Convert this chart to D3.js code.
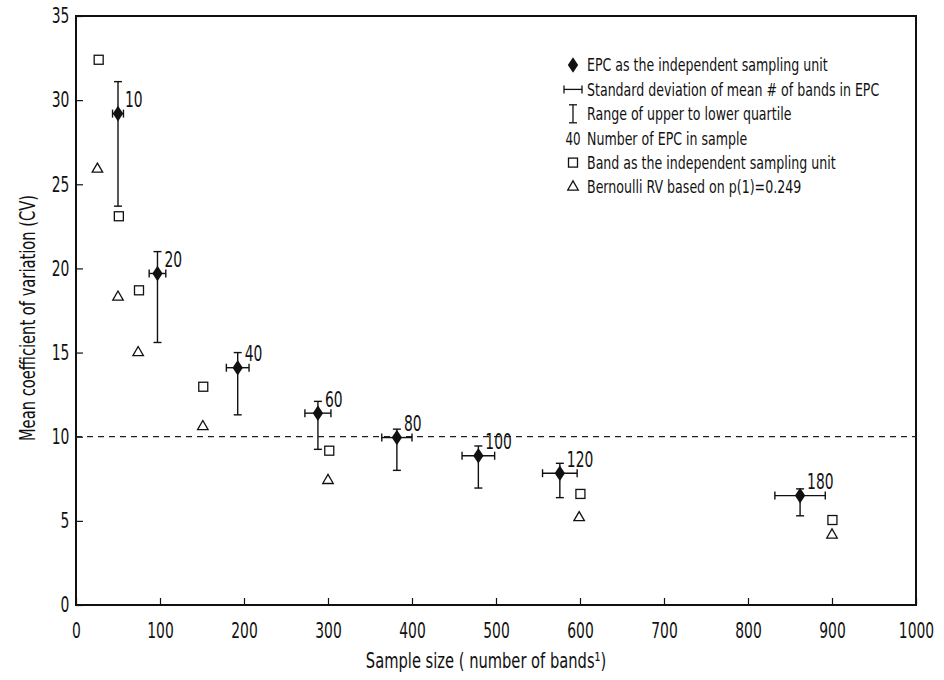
<!DOCTYPE html>
<html><head><meta charset="utf-8">
<script src="https://cdn.jsdelivr.net/npm/d3@7"></script>
<style>
body{margin:0;background:#fff;}
svg{display:block;}
text{font-family:"DejaVu Sans",sans-serif;fill:#111;}
</style></head><body>
<svg id="c" width="944" height="680"></svg>
<script>
// ---- data ----
const epcCount   = [10, 20, 40, 60, 80, 100, 120, 180];
const epcX       = [50, 97, 192.5, 288, 382, 479, 576, 862];
const epcMean    = [29.2, 19.7, 14.1, 11.4, 9.95, 8.87, 7.83, 6.5];
const epcSD      = [6.5, 9.9, 13.5, 15.5, 18, 19.4, 20.6, 30];
const epcQUpper  = [31.1, 21.0, 15.0, 12.1, 10.45, 9.45, 8.42, 6.9];
const epcQLower  = [23.7, 15.6, 11.3, 9.25, 8.0, 6.95, 6.38, 5.3];
const bandX      = [27, 51, 75, 151.5, 301.5, 600.5, 900.5];
const bandCV     = [32.4, 23.1, 18.7, 12.97, 9.17, 6.6, 5.05];
const bernX      = [25.5, 50, 74, 151, 300, 599, 900];
const bernCV     = [25.9, 18.3, 15.0, 10.6, 7.4, 5.19, 4.16];
const refLine    = 10;
const xTicks     = [0,100,200,300,400,500,600,700,800,900,1000];
const yTicks     = [0,5,10,15,20,25,30,35];
const legendLabels = [
  "EPC as the independent sampling unit",
  "Standard deviation of mean # of bands in EPC",
  "Range of upper to lower quartile",
  "Number of EPC in sample",
  "Band as the independent sampling unit",
  "Bernoulli RV based on p(1)=0.249"
];
const xTitle = "Sample size ( number of bands\u00B9)";
const yTitle = "Mean coefficient of variation (CV)";

// ---- layout ----
const svg = d3.select("#c");
const L = 76, R = 916, T = 16, B = 605;
const x = d3.scaleLinear().domain([0,1000]).range([L,R]);
const y = d3.scaleLinear().domain([0,35]).range([B,T]);
const NSX = 0.66;   // horizontal condensing for numbers
const TSX = 0.70;   // horizontal condensing for words

function label(g, px, py, str, size, sx, anchor, rot){
  return g.append("text")
    .attr("transform", `translate(${px},${py})` + (rot?` rotate(${rot})`:"") + ` scale(${sx},1)`)
    .attr("text-anchor", anchor||"start").attr("dy","0.35em")
    .style("font-size", size+"px").text(str);
}

// axes
const gx = svg.append("g").attr("transform",`translate(0,${B})`)
  .call(d3.axisBottom(x).tickValues(xTicks).tickFormat(d3.format("d")).tickSizeInner(-7).tickSizeOuter(0).tickPadding(26));
const gy = svg.append("g").attr("transform",`translate(${L},0)`)
  .call(d3.axisLeft(y).tickValues(yTicks).tickFormat(d3.format("d")).tickSizeInner(-7).tickSizeOuter(0).tickPadding(10));
[gx,gy].forEach(g=>{
  g.select(".domain").remove();
  g.selectAll(".tick line").attr("stroke","#111").attr("stroke-width",1.2);
  g.selectAll(".tick text").style("font-size","21px").attr("fill","#111")
   .style("font-family",'"DejaVu Sans",sans-serif').attr("transform",`scale(${NSX},1)`);
});
gx.selectAll(".tick text").attr("dy","0.35em");

// frame
svg.append("rect").attr("x",L).attr("y",T).attr("width",R-L).attr("height",B-T)
  .attr("fill","none").attr("stroke","#111").attr("stroke-width",2);

// dashed reference line
svg.append("line").attr("x1",x(0)).attr("x2",x(1000)).attr("y1",y(refLine)).attr("y2",y(refLine))
  .attr("stroke","#222").attr("stroke-width",1.2).attr("stroke-dasharray","6,5");

// titles
label(svg, 486, 661, xTitle, 21, TSX, "middle");
label(svg, 28, 318, yTitle, 21, TSX, "middle", -90);

// band squares
const sq = 9;
svg.append("g").selectAll("rect").data(bandX).join("rect")
  .attr("x",(d,i)=>x(d)-sq/2).attr("y",(d,i)=>y(bandCV[i])-sq/2)
  .attr("width",sq).attr("height",sq).attr("fill","#fff").attr("stroke","#111").attr("stroke-width",1.3);

// bernoulli triangles
const tri = d3.symbol().type(d3.symbolTriangle).size(48);
svg.append("g").selectAll("path").data(bernX).join("path")
  .attr("d",tri).attr("transform",(d,i)=>`translate(${x(d)},${y(bernCV[i])})`)
  .attr("fill","#fff").attr("stroke","#111").attr("stroke-width",1.3);

// EPC error bars
const cap = 4;
const eg = svg.append("g").attr("stroke","#111").attr("stroke-width",1.4);
epcX.forEach((d,i)=>{
  const cx = x(d), cy = y(epcMean[i]);
  const x1 = x(d-epcSD[i]), x2 = x(d+epcSD[i]);
  const yU = y(epcQUpper[i]), yL = y(epcQLower[i]);
  eg.append("line").attr("x1",x1).attr("x2",x2).attr("y1",cy).attr("y2",cy);
  eg.append("line").attr("x1",x1).attr("x2",x1).attr("y1",cy-cap).attr("y2",cy+cap);
  eg.append("line").attr("x1",x2).attr("x2",x2).attr("y1",cy-cap).attr("y2",cy+cap);
  eg.append("line").attr("x1",cx).attr("x2",cx).attr("y1",yU).attr("y2",yL);
  eg.append("line").attr("x1",cx-cap).attr("x2",cx+cap).attr("y1",yU).attr("y2",yU);
  eg.append("line").attr("x1",cx-cap).attr("x2",cx+cap).attr("y1",yL).attr("y2",yL);
});
// diamonds
const dia = d3.symbol().type(d3.symbolDiamond).size(70);
svg.append("g").selectAll("path").data(epcX).join("path")
  .attr("d",dia).attr("transform",(d,i)=>`translate(${x(d)},${y(epcMean[i])}) scale(1.15,1)`)
  .attr("fill","#111");
// EPC count labels
const cl = svg.append("g");
epcX.forEach((d,i)=>{
  label(cl, x(d)+7, y(epcMean[i])-14, String(epcCount[i]), 21, NSX, "start");
});

// legend
const lx = 573, tx = 587, ly0 = 65, lstep = 24.4;
const lg = svg.append("g");
legendLabels.forEach((t,i)=>{
  const yy = ly0 + i*lstep;
  label(lg, tx, yy, t, 18, TSX, "start");
  if(i===0) lg.append("path").attr("d",dia).attr("transform",`translate(${lx},${yy}) scale(1.15,1)`).attr("fill","#111");
  if(i===1){
    lg.append("line").attr("x1",lx-9).attr("x2",lx+9).attr("y1",yy).attr("y2",yy).attr("stroke","#111").attr("stroke-width",1.3);
    lg.append("line").attr("x1",lx-9).attr("x2",lx-9).attr("y1",yy-cap).attr("y2",yy+cap).attr("stroke","#111").attr("stroke-width",1.3);
    lg.append("line").attr("x1",lx+9).attr("x2",lx+9).attr("y1",yy-cap).attr("y2",yy+cap).attr("stroke","#111").attr("stroke-width",1.3);
  }
  if(i===2){
    lg.append("line").attr("x1",lx).attr("x2",lx).attr("y1",yy-9).attr("y2",yy+9).attr("stroke","#111").attr("stroke-width",1.3);
    lg.append("line").attr("x1",lx-cap).attr("x2",lx+cap).attr("y1",yy-9).attr("y2",yy-9).attr("stroke","#111").attr("stroke-width",1.3);
    lg.append("line").attr("x1",lx-cap).attr("x2",lx+cap).attr("y1",yy+9).attr("y2",yy+9).attr("stroke","#111").attr("stroke-width",1.3);
  }
  if(i===3) label(lg, lx, yy, "40", 18, NSX, "middle");
  if(i===4) lg.append("rect").attr("x",lx-sq/2).attr("y",yy-sq/2).attr("width",sq).attr("height",sq).attr("fill","#fff").attr("stroke","#111").attr("stroke-width",1.3);
  if(i===5) lg.append("path").attr("d",tri).attr("transform",`translate(${lx},${yy})`).attr("fill","#fff").attr("stroke","#111").attr("stroke-width",1.3);
});
</script>
</body></html>
